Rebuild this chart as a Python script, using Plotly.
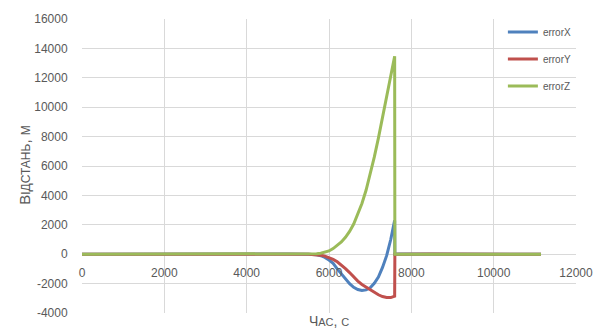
import plotly.graph_objects as go

# time, s
t = [0, 1000, 2000, 3000, 4000, 5000, 5500, 5600, 5700, 5800, 5900, 6000, 6100,
     6200, 6300, 6400, 6500, 6600, 6700, 6800, 6900, 7000, 7100, 7200, 7300,
     7400, 7500, 7595, 7600, 7700, 8500, 9500, 10500, 11150]

errorX = [0, 10, -10, 10, -10, 10, 0, -10, -40, -100, -220, -400, -620,
          -1000, -1350, -1700, -2000, -2250, -2400, -2470, -2430, -2280, -1980, -1550, -900,
          -100, 1000, 2300, 0, 10, -10, 10, -10, 0]
errorY = [0, -10, 10, -10, 10, -10, 0, -10, -30, -70, -130, -220, -350,
          -520, -730, -980, -1250, -1550, -1830, -2060, -2250, -2420, -2600, -2760, -2880,
          -2950, -2950, -2850, 0, -10, 10, -10, 10, 0]
errorZ = [0, 0, 0, 0, 0, 0, 0, 10, 30, 70, 130, 220, 380,
          580, 830, 1150, 1550, 2050, 2700, 3450, 4350, 5400, 6600, 7900, 9250,
          10650, 12050, 13470, 0, 0, 0, 0, 0, 0]

names = ["errorX", "errorY", "errorZ"]
colors = ["#4F81BD", "#C0504D", "#9BBB59"]

x_ticks = [0, 2000, 4000, 6000, 8000, 10000, 12000]
y_ticks = [-4000, -2000, 0, 2000, 4000, 6000, 8000, 10000, 12000, 14000, 16000]

fig = go.Figure()
for i, (name, vals) in enumerate(zip(names, [errorX, errorY, errorZ])):
    fig.add_trace(go.Scatter(x=t, y=vals, mode="lines", name=name,
                             legendgroup=name,
                             line=dict(color=colors[i], width=3)))

font_gray = "#595959"
fig.update_layout(
    width=605, height=332,
    margin=dict(l=82, r=23, t=16, b=16),
    paper_bgcolor="white", plot_bgcolor="white",
    font=dict(family="Liberation Sans, Arial", color=font_gray, size=12),
    showlegend=True,
    legend=dict(x=0.852, y=1.005, xanchor="left", yanchor="top",
                bgcolor="rgba(0,0,0,0)", font=dict(size=10, color=font_gray),
                traceorder="grouped", tracegroupgap=8, itemwidth=30),
    xaxis=dict(range=[0, 12000], tickvals=x_ticks, ticktext=[str(v) for v in x_ticks],
               showgrid=True, gridcolor="#D9D9D9", gridwidth=1,
               zeroline=False, showline=False,
               anchor="free", position=0.2,
               ticks="outside", ticklen=7, tickcolor="rgba(0,0,0,0)"),
    yaxis=dict(range=[-4000, 16000], tickvals=y_ticks, ticktext=[str(v) for v in y_ticks],
               showgrid=True, gridcolor="#D9D9D9", gridwidth=1,
               zeroline=False, showline=False,
               ticks="outside", ticklen=11, tickcolor="rgba(0,0,0,0)"),
    annotations=[
        dict(text="В<span style='font-size:12px'>ІДСТАНЬ</span>, <span style='font-size:12px'>М</span>",
             xref="paper", yref="paper", x=-0.118, y=0.503, textangle=-90,
             xanchor="center", yanchor="middle",
             showarrow=False, font=dict(size=15, color=font_gray)),
        dict(text="Ч<span style='font-size:11px'>АС</span>, <span style='font-size:11px'>С</span>",
             xref="paper", yref="paper", x=0.5, y=-0.027, xanchor="center", yanchor="middle",
             showarrow=False, font=dict(size=14, color=font_gray)),
    ],
)

fig.write_html("out.html")
